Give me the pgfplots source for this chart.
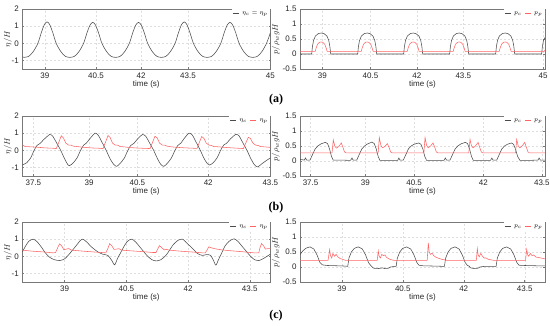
\documentclass[border=0pt]{standalone}
\usepackage{fontspec}
\setmainfont{Liberation Sans}
\newfontfamily\tagfont{Liberation Serif}
\usepackage{pgfplots}
\pgfplotsset{compat=1.18}
\definecolor{cblack}{RGB}{75,75,75}
\definecolor{cred}{RGB}{255,100,100}
\definecolor{cframe}{RGB}{120,120,120}
\pgfplotsset{
  panel/.style={
    scale only axis, height=60pt,
    axis line style={draw=cframe, line width=0.5pt},
    grid=major, major grid style={dash pattern=on 2pt off 2pt, black!13, line width=0.35pt},
    major tick length=1.5pt, tick style={draw=cframe, line width=0.4pt},
    tick label style={font=\fontsize{8}{9}\selectfont, text=black!85},
    label style={font=\fontsize{8}{9}\selectfont, text=black!85},
    /pgf/number format/assume math mode=true,
    xlabel={time (s)},
    xlabel style={yshift=4pt},
    legend style={at={(1,1)}, anchor=north east, draw=none, fill=white,
      inner sep=0.5pt, font=\fontsize{6.5}{7}\selectfont, column sep=1pt},
    legend cell align=left,
    legend image code/.code={\draw[##1, line width=0.6pt] (0pt,0pt) -- (6pt,0pt);},
  },
  etaax/.style={panel, width=248pt, ymin=-1.5, ymax=2, ytick={-1,0,1,2}, ylabel={$\eta/H$}, ylabel style={yshift=-7pt}},
  pax/.style={panel, width=245pt, ymin=-0.5, ymax=1.5, ytick={-0.5,0,0.5,1,1.5}, ylabel={$p/\rho_w gH$}, ylabel style={yshift=-4pt}},
  bl/.style={cblack, line width=0.55pt},
  rd/.style={cred, line width=0.55pt},
}
\begin{document}
\begin{tikzpicture}
\path[use as bounding box] (0pt,0pt) rectangle (550pt,326pt);
% ---------- (a) left
\begin{axis}[etaax, at={(22.3pt,257pt)}, anchor=south west,
  xmin=38.4, xmax=45, xtick={39,40.36,41.56,42.81,45}, xticklabels={39,40.5,42,43.5,45}]
\addplot[bl, smooth] coordinates {
(38.4,-0.80)(38.45,-0.82)(38.572,-0.76)(38.693,-0.48)(38.815,0.0)(38.906,0.62)(38.985,1.08)(39.059,1.25)(39.132,1.08)(39.211,0.62)(39.302,0.0)(39.424,-0.48)(39.545,-0.76)
(39.667,-0.82)(39.789,-0.76)(39.910,-0.48)(40.032,0.0)(40.123,0.62)(40.202,1.06)(40.276,1.22)(40.349,1.06)(40.428,0.62)(40.519,0.0)(40.641,-0.48)(40.762,-0.76)
(40.884,-0.82)(41.006,-0.76)(41.127,-0.48)(41.249,0.0)(41.340,0.62)(41.419,1.06)(41.493,1.22)(41.566,1.06)(41.645,0.62)(41.736,0.0)(41.858,-0.48)(41.979,-0.76)
(42.101,-0.82)(42.223,-0.76)(42.344,-0.48)(42.466,0.0)(42.557,0.62)(42.636,1.08)(42.710,1.25)(42.783,1.08)(42.862,0.62)(42.953,0.0)(43.075,-0.48)(43.196,-0.76)
(43.318,-0.82)(43.440,-0.76)(43.561,-0.48)(43.683,0.0)(43.774,0.62)(43.853,1.06)(43.927,1.22)(44.000,1.06)(44.079,0.62)(44.170,0.0)(44.292,-0.48)(44.413,-0.76)
(44.535,-0.82)(44.657,-0.76)(44.778,-0.48)(44.900,0.0)(45.0,0.6)
};
\addlegendentry{$\eta_c=\eta_p$}
\end{axis}
% ---------- (a) right
\begin{axis}[pax, at={(300pt,257pt)}, anchor=south west, legend columns=2,
  xmin=38.4, xmax=45, xtick={39,40.3,41.55,42.8,44.95}, xticklabels={39,40.5,42,43.5,45}]
\addplot[bl] coordinates {
(38.4,0)(38.715,0)(38.735,0.25)(38.765,0.45)(38.815,0.6)(38.895,0.68)(38.971,0.7)(39.045,0.68)(39.125,0.6)(39.175,0.45)(39.205,0.25)(39.227,0)
(39.954,0)(39.974,0.25)(40.004,0.45)(40.054,0.6)(40.134,0.68)(40.210,0.7)(40.284,0.68)(40.364,0.6)(40.414,0.45)(40.444,0.25)(40.466,0)
(41.193,0)(41.213,0.25)(41.243,0.45)(41.293,0.6)(41.373,0.68)(41.449,0.7)(41.523,0.68)(41.603,0.6)(41.653,0.45)(41.683,0.25)(41.705,0)
(42.432,0)(42.452,0.25)(42.482,0.45)(42.532,0.6)(42.612,0.68)(42.688,0.7)(42.762,0.68)(42.842,0.6)(42.892,0.45)(42.922,0.25)(42.944,0)
(43.671,0)(43.691,0.25)(43.721,0.45)(43.771,0.6)(43.851,0.68)(43.927,0.7)(44.001,0.68)(44.081,0.6)(44.131,0.45)(44.161,0.25)(44.183,0)
(44.91,0)(44.93,0.25)(44.96,0.45)(45.0,0.55)
};
\addlegendentry{$p_c$}
\addplot[rd] coordinates {
(38.4,0.09)(38.811,0.09)(38.835,0.2)(38.875,0.33)(38.925,0.39)(38.971,0.4)(39.015,0.39)(39.065,0.33)(39.105,0.2)(39.131,0.09)
(40.050,0.09)(40.074,0.2)(40.114,0.33)(40.164,0.39)(40.210,0.4)(40.254,0.39)(40.304,0.33)(40.344,0.2)(40.370,0.09)
(41.289,0.09)(41.313,0.2)(41.353,0.33)(41.403,0.39)(41.449,0.4)(41.493,0.39)(41.543,0.33)(41.583,0.2)(41.609,0.09)
(42.528,0.09)(42.552,0.2)(42.592,0.33)(42.642,0.39)(42.688,0.4)(42.732,0.39)(42.782,0.33)(42.822,0.2)(42.848,0.09)
(43.767,0.09)(43.791,0.2)(43.831,0.33)(43.881,0.39)(43.927,0.4)(43.971,0.39)(44.021,0.33)(44.061,0.2)(44.087,0.09)
(44.98,0.09)(45.0,0.13)
};
\addlegendentry{$p_p$}
\end{axis}
% ---------- (b) left
\begin{axis}[etaax, at={(22.3pt,150pt)}, anchor=south west, legend columns=2,
  xmin=37.23, xmax=43.5, xtick={37.51,38.92,40.14,41.93,43.5}, xticklabels={37.5,39,40.5,42,43.5}]
\addplot[bl, smooth, tension=0.4] coordinates {
(37.23,-0.86)(37.34,-0.73)(37.44,-0.45)(37.52,-0.05)(37.60,0.28)(37.68,0.4)(37.77,0.62)(37.923,0.92)
(38.00,0.82)(38.10,0.42)(38.20,0.0)(38.30,-0.5)(38.37,-0.8)(38.423,-0.9)
(38.52,-0.73)(38.62,-0.42)(38.70,-0.02)(38.78,0.3)(38.85,0.42)(38.94,0.68)(39.068,1.0)
(39.15,0.88)(39.25,0.45)(39.35,0.0)(39.45,-0.5)(39.54,-0.82)(39.617,-0.94)
(39.71,-0.75)(39.81,-0.45)(39.89,-0.05)(39.97,0.28)(40.05,0.4)(40.14,0.65)(40.269,0.92)
(40.35,0.82)(40.45,0.42)(40.55,0.0)(40.65,-0.5)(40.73,-0.82)(40.808,-0.94)
(40.90,-0.75)(41.00,-0.45)(41.08,-0.05)(41.16,0.28)(41.24,0.42)(41.32,0.68)(41.445,1.0)
(41.53,0.88)(41.63,0.45)(41.73,0.0)(41.83,-0.5)(41.91,-0.78)(41.968,-0.86)
(42.06,-0.72)(42.16,-0.42)(42.24,-0.02)(42.32,0.3)(42.40,0.42)(42.49,0.66)(42.628,0.93)
(42.71,0.84)(42.81,0.42)(42.91,0.0)(43.01,-0.5)(43.10,-0.85)(43.18,-0.97)
(43.28,-0.8)(43.40,-0.6)(43.5,-0.45)
};
\addlegendentry{$\eta_c$}
\addplot[rd] coordinates {
(37.23,0.32)(37.30,0.22)(37.45,0.2)(37.60,0.18)(37.80,0.14)(38.00,0.12)(38.09,0.1)
(38.15,0.45)(38.216,0.85)(38.27,0.72)(38.33,0.42)(38.40,0.3)(38.46,0.3)(38.52,0.24)(38.60,0.22)(38.75,0.18)(38.95,0.14)(39.15,0.12)(39.27,0.1)
(39.33,0.45)(39.397,0.86)(39.45,0.75)(39.51,0.42)(39.58,0.3)(39.64,0.3)(39.70,0.22)(39.80,0.2)(39.95,0.16)(40.15,0.13)(40.35,0.11)(40.46,0.1)
(40.52,0.45)(40.585,0.82)(40.64,0.72)(40.70,0.42)(40.77,0.3)(40.83,0.3)(40.89,0.24)(41.0,0.2)(41.15,0.17)(41.35,0.14)(41.55,0.12)(41.65,0.11)
(41.70,0.42)(41.766,0.8)(41.82,0.7)(41.88,0.42)(41.95,0.3)(42.01,0.28)(42.07,0.22)(42.2,0.2)(42.4,0.16)(42.6,0.13)(42.82,0.1)
(42.88,0.42)(42.944,0.76)(43.0,0.68)(43.06,0.42)(43.13,0.3)(43.19,0.28)(43.25,0.22)(43.35,0.2)(43.5,0.17)
};
\addlegendentry{$\eta_p$}
\end{axis}
% ---------- (b) right
\begin{axis}[pax, at={(300pt,150pt)}, anchor=south west, legend columns=2,
  xmin=37.23, xmax=43.5, xtick={37.5,38.9,40.15,41.92,43.42}, xticklabels={37.5,39,40.5,42,43.5}]
\addplot[bl] coordinates {
(37.23,0.05)(37.30,0.04)(37.34,0.03)(37.37,0.1)(37.40,0.03)
(37.486,0.03)(37.546,0.2)(37.616,0.4)(37.686,0.5)(37.766,0.57)(37.876,0.62)(37.936,0.58)(37.986,0.4)(38.036,0.15)(38.08,0.03)(38.3,0.03)(38.5,0.02)
(38.53,0.03)(38.56,0.1)(38.59,0.03)
(38.681,0.03)(38.741,0.2)(38.811,0.4)(38.881,0.5)(38.961,0.57)(39.071,0.63)(39.131,0.58)(39.181,0.4)(39.231,0.15)(39.275,0.02)(39.5,0.02)(39.72,0.02)
(39.73,0.02)(39.76,0.1)(39.79,0.03)
(39.874,0.03)(39.934,0.2)(40.004,0.4)(40.074,0.5)(40.154,0.56)(40.264,0.6)(40.324,0.56)(40.374,0.4)(40.424,0.15)(40.47,0.02)(40.7,0.02)(40.9,0.02)
(40.92,0.03)(40.95,0.1)(40.98,0.03)
(41.069,0.03)(41.129,0.2)(41.199,0.4)(41.269,0.5)(41.349,0.57)(41.459,0.62)(41.519,0.58)(41.569,0.4)(41.619,0.15)(41.665,0.02)(41.9,0.02)(42.1,0.02)
(42.11,0.03)(42.14,0.1)(42.17,0.03)
(42.264,0.03)(42.324,0.2)(42.394,0.4)(42.464,0.5)(42.544,0.56)(42.634,0.6)(42.694,0.56)(42.744,0.4)(42.80,0.15)(42.86,0.02)(43.1,0.02)(43.3,0.03)
(43.32,0.03)(43.35,0.1)(43.38,0.03)(43.5,0.03)
};
\addlegendentry{$p_c$}
\addplot[rd] coordinates {
(37.23,0.27)(38.05,0.27)
(38.082,0.7)(38.12,0.5)(38.16,0.43)(38.22,0.48)(38.287,0.6)(38.33,0.45)(38.37,0.3)(38.41,0.27)(39.23,0.27)
(39.26,0.78)(39.30,0.52)(39.34,0.44)(39.40,0.48)(39.465,0.58)(39.51,0.45)(39.55,0.3)(39.59,0.27)(40.40,0.27)
(40.43,0.78)(40.47,0.52)(40.51,0.44)(40.57,0.5)(40.635,0.6)(40.68,0.45)(40.72,0.3)(40.76,0.27)(41.55,0.27)
(41.581,0.72)(41.62,0.5)(41.66,0.44)(41.72,0.5)(41.786,0.62)(41.83,0.45)(41.87,0.3)(41.91,0.27)(42.745,0.27)
(42.776,0.72)(42.815,0.5)(42.855,0.44)(42.915,0.5)(42.98,0.62)(43.025,0.45)(43.065,0.3)(43.105,0.27)(43.5,0.27)
};
\addlegendentry{$p_p$}
\end{axis}
% ---------- (c) left
\begin{axis}[etaax, at={(22.3pt,44pt)}, anchor=south west, legend columns=2,
  xmin=37.97, xmax=44.0, xtick={39,40.5,42,43.5}]
\addplot[bl, smooth, tension=0.4] coordinates {
(37.97,0.25)(38.05,0.6)(38.13,0.88)(38.236,1.0)
(38.33,0.85)(38.43,0.55)(38.53,0.2)(38.63,-0.05)(38.75,-0.2)(38.883,-0.25)(39.0,-0.15)(39.12,0.15)(39.29,0.65)(39.38,0.92)(39.447,1.0)
(39.55,0.8)(39.65,0.55)(39.81,0.25)(39.93,0.12)(40.05,0.05)(40.14,-0.22)(40.215,-0.5)(40.29,-0.1)(40.36,0.2)(40.46,0.65)(40.55,0.92)(40.64,1.0)
(40.74,0.8)(40.86,0.45)(41.0,0.05)(41.12,-0.2)(41.23,-0.27)(41.34,-0.2)(41.46,0.05)(41.55,0.35)(41.63,0.65)(41.75,0.92)(41.868,1.0)
(42.0,0.7)(42.1,0.48)(42.23,0.16)(42.35,0.05)(42.45,0.1)(42.55,0.05)(42.62,-0.25)(42.677,-0.52)(42.74,-0.2)(42.82,0.2)(42.9,0.6)(43.0,0.88)(43.12,1.02)
(43.22,0.85)(43.36,0.45)(43.52,0.0)(43.62,-0.2)(43.72,-0.25)(43.82,-0.15)(43.92,0.0)(44.0,0.12)
};
\addlegendentry{$\eta_c$}
\addplot[rd] coordinates {
(37.97,0.36)(38.2,0.3)(38.5,0.25)(38.72,0.2)(38.78,0.22)(38.84,0.55)(38.876,0.72)(38.93,0.6)(38.98,0.38)(39.04,0.42)(39.1,0.45)(39.16,0.36)(39.3,0.33)(39.6,0.27)(39.9,0.22)(40.0,0.2)
(40.05,0.45)(40.094,0.74)(40.15,0.6)(40.2,0.4)(40.26,0.42)(40.32,0.44)(40.38,0.36)(40.6,0.32)(40.9,0.27)(41.15,0.22)(41.22,0.22)
(41.27,0.45)(41.304,0.62)(41.36,0.5)(41.42,0.38)(41.48,0.4)(41.54,0.36)(41.8,0.3)(42.1,0.25)(42.35,0.2)(42.42,0.2)
(42.47,0.4)(42.503,0.55)(42.56,0.5)(42.65,0.44)(42.8,0.38)(43.0,0.33)(43.3,0.27)(43.6,0.2)(43.72,0.2)
(43.75,0.5)(43.786,0.74)(43.84,0.6)(43.88,0.42)(43.94,0.45)(44.0,0.45)
};
\addlegendentry{$\eta_p$}
\end{axis}
% ---------- (c) right
\begin{axis}[pax, at={(300pt,44pt)}, anchor=south west, legend columns=2,
  xmin=37.97, xmax=44.0, xtick={39,40.5,42,43.5}]
\addplot[bl] coordinates {
(37.97,0.42)(38.05,0.55)(38.12,0.63)(38.216,0.67)(38.31,0.6)(38.39,0.4)(38.46,0.15)(38.52,0.07)(38.65,0.05)(38.9,0.04)(39.1,0.03)(39.145,0.02)
(39.175,0.3)(39.235,0.5)(39.305,0.62)(39.405,0.67)(39.505,0.6)(39.585,0.4)(39.655,0.15)(39.705,0.06)(39.75,0.0)(39.78,-0.04)(39.9,-0.05)(40.0,-0.03)(40.05,-0.05)(40.15,-0.04)(40.2,0.0)(40.3,0.02)(40.336,0.02)
(40.366,0.3)(40.426,0.5)(40.496,0.62)(40.596,0.67)(40.696,0.6)(40.776,0.4)(40.846,0.15)(40.896,0.06)(41.0,0.04)(41.3,0.03)(41.525,0.02)
(41.555,0.3)(41.615,0.5)(41.685,0.62)(41.785,0.67)(41.885,0.6)(41.965,0.4)(42.035,0.15)(42.085,0.06)(42.13,0.03)(42.17,-0.03)(42.25,-0.05)(42.35,-0.04)(42.4,0.0)(42.5,0.02)(42.797,0.02)
(42.827,0.3)(42.887,0.5)(42.957,0.62)(43.057,0.67)(43.157,0.6)(43.237,0.4)(43.307,0.15)(43.357,0.06)(43.5,0.05)(43.8,0.04)(44.0,0.04)
};
\addlegendentry{$p_c$}
\addplot[rd] coordinates {
(37.97,0.22)(38.66,0.22)
(38.70,0.58)(38.72,0.38)(38.75,0.3)(38.78,0.45)(38.82,0.36)(38.86,0.42)(38.9,0.34)(38.96,0.28)(39.05,0.24)(39.1,0.22)(39.87,0.22)
(39.897,0.53)(39.92,0.35)(39.95,0.3)(39.98,0.42)(40.02,0.38)(40.06,0.4)(40.1,0.32)(40.16,0.27)(40.25,0.23)(40.3,0.22)(41.1,0.22)
(41.128,0.8)(41.15,0.5)(41.18,0.42)(41.22,0.46)(41.26,0.38)(41.3,0.34)(41.36,0.3)(41.45,0.26)(41.55,0.23)(41.6,0.22)(42.31,0.22)
(42.334,0.61)(42.355,0.4)(42.38,0.34)(42.42,0.45)(42.46,0.36)(42.5,0.3)(42.55,0.3)(42.6,0.26)(42.7,0.23)(42.75,0.22)(43.52,0.22)
(43.55,0.59)(43.575,0.4)(43.6,0.36)(43.64,0.45)(43.68,0.38)(43.72,0.4)(43.78,0.33)(43.9,0.3)(44.0,0.27)
};
\addlegendentry{$p_p$}
\end{axis}
% ---------- tags
\node[font=\tagfont\bfseries\fontsize{12}{13}\selectfont] at (276pt,226pt) {(a)};
\node[font=\tagfont\bfseries\fontsize{12}{13}\selectfont] at (276pt,118pt) {(b)};
\node[font=\tagfont\bfseries\fontsize{12}{13}\selectfont] at (276pt,10pt) {(c)};
\end{tikzpicture}
\end{document}
